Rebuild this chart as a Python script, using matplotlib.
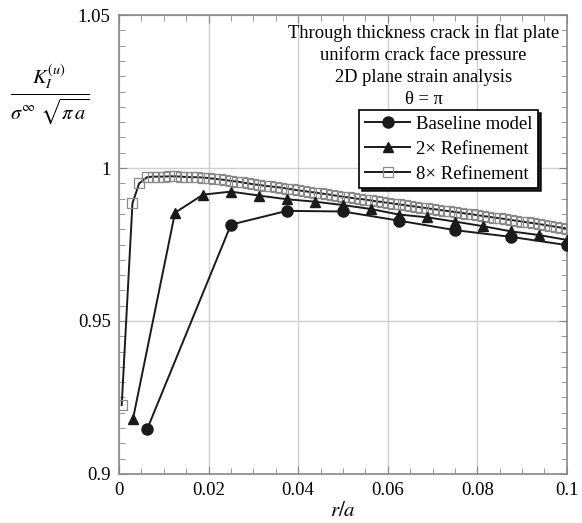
import matplotlib
matplotlib.use("Agg")
import matplotlib.pyplot as plt

plt.rcParams['font.family'] = ['Liberation Serif', 'DejaVu Serif']
plt.rcParams['mathtext.fontset'] = 'stix'

# ----------------------------------------------------------------------------------------------------------------------
# dati

base_x = [0.00625, 0.025, 0.0375, 0.05, 0.0625, 0.075, 0.0875, 0.1]
base_y = [0.9145, 0.9815, 0.9860, 0.9858, 0.9828, 0.9797, 0.9775, 0.9748]

ref2_x = [0.003125, 0.0125, 0.01875, 0.025, 0.03125, 0.0375, 0.04375, 0.05,
          0.05625, 0.0625, 0.06875, 0.075, 0.08125, 0.0875, 0.09375, 0.1]
ref2_y = [0.9180, 0.9854, 0.9913, 0.9923, 0.9910, 0.9898, 0.9890, 0.9879,
          0.9866, 0.9848, 0.9839, 0.9825, 0.9810, 0.9793, 0.9781, 0.9765]

ref8_x = [0.0006, 0.003, 0.0045,
          0.00625, 0.0075, 0.00875, 0.01, 0.01125, 0.0125, 0.01375, 0.015, 0.01625, 0.0175,
          0.01875, 0.02, 0.02125, 0.0225, 0.02375, 0.025, 0.02625, 0.0275, 0.02875, 0.03,
          0.03125, 0.0325, 0.03375, 0.035, 0.03625, 0.0375, 0.03875, 0.04, 0.04125, 0.0425,
          0.04375, 0.045, 0.04625, 0.0475, 0.04875, 0.05, 0.05125, 0.0525, 0.05375, 0.055,
          0.05625, 0.0575, 0.05875, 0.06, 0.06125, 0.0625, 0.06375, 0.065, 0.06625, 0.0675,
          0.06875, 0.07, 0.07125, 0.0725, 0.07375, 0.075, 0.07625, 0.0775, 0.07875, 0.08,
          0.08125, 0.0825, 0.08375, 0.085, 0.08625, 0.0875, 0.08875, 0.09, 0.09125, 0.0925,
          0.09375, 0.095, 0.09625, 0.0975, 0.09875, 0.1]
ref8_y = [0.9225, 0.9885, 0.9950,
          0.9970, 0.9972, 0.9972, 0.9972, 0.9973, 0.9973, 0.9972, 0.9971, 0.9970, 0.9970,
          0.9969, 0.9967, 0.9965, 0.9963, 0.9961, 0.9958, 0.9956, 0.9953, 0.9950, 0.9947,
          0.9945, 0.9942, 0.9940, 0.9938, 0.9936, 0.9933, 0.9930, 0.9927, 0.9925, 0.9922,
          0.9920, 0.9917, 0.9915, 0.9912, 0.9909, 0.9906, 0.9904, 0.9901, 0.9899, 0.9897,
          0.9894, 0.9891, 0.9889, 0.9886, 0.9884, 0.9881, 0.9879, 0.9876, 0.9874, 0.9871,
          0.9869, 0.9866, 0.9864, 0.9861, 0.9859, 0.9856, 0.9854, 0.9851, 0.9849, 0.9846,
          0.9843, 0.9841, 0.9838, 0.9836, 0.9833, 0.9830, 0.9828, 0.9825, 0.9822, 0.9820,
          0.9817, 0.9814, 0.9811, 0.9808, 0.9805, 0.9802]

xticks = [0, 0.02, 0.04, 0.06, 0.08, 0.1]
xtick_labels = ['0', '0.02', '0.04', '0.06', '0.08', '0.1']
yticks = [0.9, 0.95, 1.0, 1.05]
ytick_labels = ['0.9', '0.95', '1', '1.05']

note_lines = ["Through thickness crack in flat plate",
              "uniform crack face pressure",
              "2D plane strain analysis",
              "\u03b8 = \u03c0"]

# ----------------------------------------------------------------------------------------------------------------------
# figura

fig = plt.figure(figsize=(5.82, 5.23), dpi=100)
ax = fig.add_axes([0.2045, 0.094, 0.7695, 0.877])

ax.plot(ref8_x, ref8_y, color='#1a1a1a', lw=1.4, marker='s', ms=7.5, mfc='none',
        mec='#8a8a8a', mew=0.9, label='8\u00d7 Refinement', zorder=3)
ax.plot(ref2_x, ref2_y, color='#1a1a1a', lw=1.4, marker='^', ms=7, mfc='#1a1a1a',
        mec='#1a1a1a', label='2\u00d7 Refinement', zorder=4)
ax.plot(base_x, base_y, color='#1a1a1a', lw=1.4, marker='o', ms=8, mfc='#1a1a1a',
        mec='#1a1a1a', label='Baseline model', zorder=5)

ax.set_xlim(0, 0.1)
ax.set_ylim(0.9, 1.05)
ax.set_xticks(xticks)
ax.set_xticklabels(xtick_labels)
ax.set_yticks(yticks)
ax.set_yticklabels(ytick_labels)
ax.set_xticks([i * 0.005 for i in range(21)], minor=True)
ax.set_yticks([0.9 + i * 0.005 for i in range(31)], minor=True)
ax.tick_params(which='both', direction='in', top=True, right=True, colors='#888888',
               labelcolor='black', labelsize=13.5)
ax.tick_params(which='major', length=6, pad=6)
ax.tick_params(which='minor', length=4)
ax.grid(which='major', color='#d0d0d0', lw=1.0)
for s in ax.spines.values():
    s.set_color('#888888')
    s.set_linewidth(1.2)

for i, line in enumerate(note_lines):
    ax.text(0.68, 0.961 - i * 0.048, line, transform=ax.transAxes, ha='center',
            va='center', fontsize=13.3)

handles, labels = ax.get_legend_handles_labels()
leg = ax.legend(handles[::-1], labels[::-1], loc='upper right', bbox_to_anchor=(0.935, 0.793),
                fontsize=13.5, fancybox=False, shadow={'color': 'black', 'alpha': 0.85},
                edgecolor='black', framealpha=1, handlelength=2.4, handletextpad=0.3,
                borderpad=0.3, labelspacing=0.42, borderaxespad=0)
leg.get_frame().set_linewidth(1.2)

fig.text(0.085, 0.818, r'$\frac{K_I^{(u)}}{\sigma^{\infty}\ \sqrt{\pi\, a}}$',
         ha='center', va='center', fontsize=21)
fig.text(0.59, 0.022, r'$r/a$', ha='center', va='center', fontsize=15)

fig.savefig('out.png', dpi=100)
